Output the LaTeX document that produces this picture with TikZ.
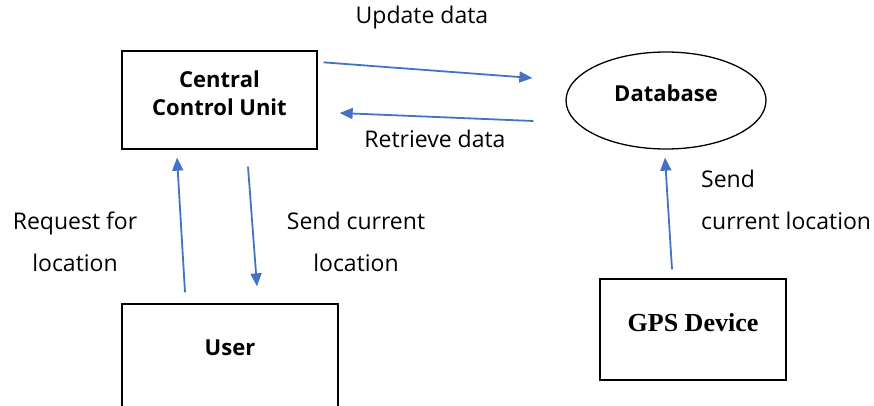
\documentclass[tikz,border=0pt]{standalone}
\usepackage{fontspec}
\setmainfont{Open Sans}
\newfontfamily\gpsfont{Liberation Serif}
\usetikzlibrary{positioning,arrows.meta,calc,shapes.geometric}
\definecolor{flowblue}{HTML}{4472C4}
\tikzset{
  blk/.style={draw,line width=1.3pt,inner sep=0pt},
  store/.style={ellipse,draw,line width=1.3pt,inner sep=0pt},
  blktxt/.style={font=\fontsize{22}{28}\selectfont\bfseries,align=center},
  flow/.style={-{Triangle[length=13pt,width=11pt]},line width=1.8pt,flowblue},
  lbl/.style={font=\fontsize{23}{42}\selectfont,inner sep=0pt},
}

\begin{document}
\begin{tikzpicture}[x=1pt,y=-1pt]
  \useasboundingbox (0,0) rectangle (874,405);
  % ---- processes and store ----
  \node[blk,minimum width=195pt,minimum height=98pt,
    label={[blktxt,yshift=6.5pt]center:{Central\\Control Unit}}] (ccu) at (219.5,100) {};
  \node[store,minimum width=200pt,minimum height=97pt,
    label={[blktxt,yshift=7pt]center:Database}] (db) at (666,100.5) {};
  \node[blk,minimum width=216pt,minimum height=106pt,
    label={[blktxt,yshift=9pt]center:User}] (user) at (230,357) {};
  \node[blk,minimum width=186pt,minimum height=101pt,
    label={[font=\fontsize{26}{30}\selectfont\gpsfont\bfseries,yshift=6.5pt]center:GPS Device}] (gps) at (693,329.5) {};

  % ---- data flows ----
  \draw[flow] ($(ccu.north east)+(6,12)$) -- ($(db.west)+(-33,-22.5)$);
  \draw[flow] ($(db.west)+(-32,20.5)$) -- ($(ccu.east)+(22,13)$);
  \draw[flow] ($(user.north)+(-45,-11)$) -- ($(ccu.south)+(-42.5,8)$);
  \draw[flow] ($(ccu.south)+(28.5,17)$) -- ($(user.north)+(27,-17)$);
  \draw[flow] ($(gps.north)+(-21,-9)$) -- ($(db.south)+(-1,8)$);

  \node[lbl] (upd) at (422,18) {Update data};
  \node[lbl] (ret) at (435,139) {Retrieve data};
  \node[lbl,align=center] (req) at (75,241.5) {Request for\\location};
  \node[lbl,align=center] (cur) at (356,241.5) {Send current\\location};
  \node[lbl,align=left,anchor=west] (gpscur) at (701,200) {Send\\current location};
\end{tikzpicture}
\end{document}
